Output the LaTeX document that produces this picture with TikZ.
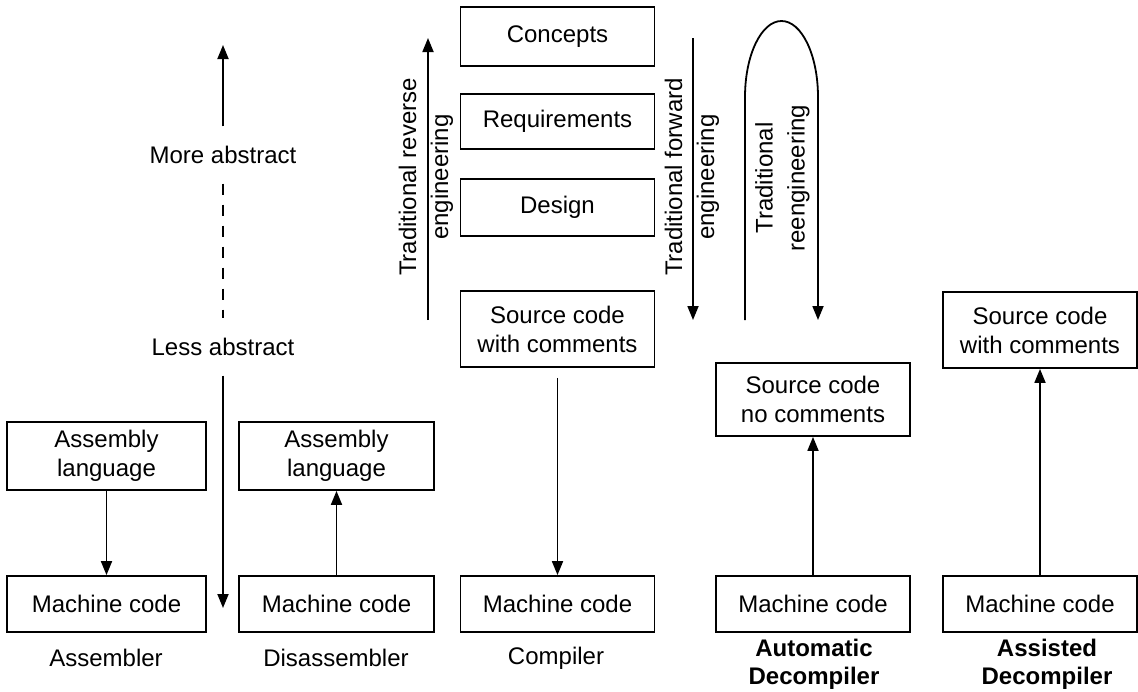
\documentclass[tikz,border=0pt]{standalone}
\usepackage{fontspec}
\setmainfont{Liberation Sans}
\usetikzlibrary{arrows.meta}

\tikzset{
  box/.style={draw, line width=1.8pt, minimum width=194pt, align=center, inner sep=2pt},
  flow/.style={line width=1.8pt, -{Triangle[length=14pt,width=11pt]}},
  level/.style={minimum height=57pt},
  turned/.style={rotate=90, align=center, font=\fontsize{24}{32}\selectfont},
  tool/.style={align=center, font=\fontsize{24}{28}\selectfont\bfseries},
}

\begin{document}
\begin{tikzpicture}[x=1pt, y=-1pt, font=\fontsize{24}{29}\selectfont]
    \useasboundingbox (0,0) rectangle (1138,691);

    % abstraction axis
    \node[level] (more) at (223,155) {More abstract};
    \node[level] (less) at (223,347) {Less abstract};
    \coordinate (top) at (223,45);
    \coordinate (bot) at (223,608);
    \draw[flow] (more) -- (top);
    \draw[line width=1.8pt, dash pattern=on 11pt off 10pt] (more) -- (less);
    \draw[flow] (less) -- (bot);

    % assembler and disassembler
    \node[box, minimum width=199pt, minimum height=68pt] (asmA) at (106.5,456) {Assembly\\language};
    \node[box, minimum width=199pt, minimum height=56pt] (mcA) at (106.5,604) {Machine code};
    \node[box, minimum width=195pt, minimum height=68pt] (asmD) at (336.5,456) {Assembly\\language};
    \node[box, minimum width=195pt, minimum height=56pt] (mcD) at (336.5,604) {Machine code};
    \draw[flow] (asmA) -- (mcA);
    \draw[flow] (mcD) -- (asmD);
    \node (lblA) at (106,658) {Assembler};
    \node (lblD) at (336,658) {Disassembler};

    % compiler column
    \node[box, minimum height=59pt] (concepts) at (557.5,36.5) {Concepts};
    \node[box, minimum height=55pt] (req) at (557.5,121.5) {Requirements};
    \node[box, minimum height=57pt] (design) at (557.5,207.5) {Design};
    \node[box, minimum height=76pt] (srcC) at (557.5,329) {Source code\\with comments};
    \node[box, minimum height=56pt] (mcC) at (557.5,604) {Machine code};
    \draw[flow, shorten <=10pt] (srcC) -- (mcC);
    \node (lblC) at (556,658) {Compiler};

    \coordinate (revS) at (428,320);
    \coordinate (revE) at (428,38);
    \draw[flow] (revS) -- (revE);
    \node[turned] (rev) at (426,177) {Traditional reverse\\engineering};

    \coordinate (fwdS) at (693,38);
    \coordinate (fwdE) at (693,320);
    \draw[flow] (fwdS) -- (fwdE);
    \node[turned] (fwd) at (692,177) {Traditional forward\\engineering};

    \coordinate (reS) at (745,320);
    \coordinate (reE) at (818,320);
    \draw[flow] (reS) -- (745,97) arc[start angle=180, end angle=0, x radius=36.5pt, y radius=76pt] -- (reE);
    \node[turned] (re) at (782.5,178) {Traditional\\reengineering};

    % decompilers
    \node[box, minimum height=73pt] (srcN) at (813,399.5) {Source code\\no comments};
    \node[box, minimum height=56pt] (mcN) at (813,604) {Machine code};
    \draw[flow] (mcN) -- (srcN);
    \node[tool] (lblN) at (814,664) {Automatic\\Decompiler};

    \node[box, minimum height=76pt] (srcS) at (1040,330) {Source code\\with comments};
    \node[box, minimum height=56pt] (mcS) at (1040,604) {Machine code};
    \draw[flow] (mcS) -- (srcS);
    \node[tool] (lblS) at (1047,664) {Assisted\\Decompiler};
\end{tikzpicture}
\end{document}
